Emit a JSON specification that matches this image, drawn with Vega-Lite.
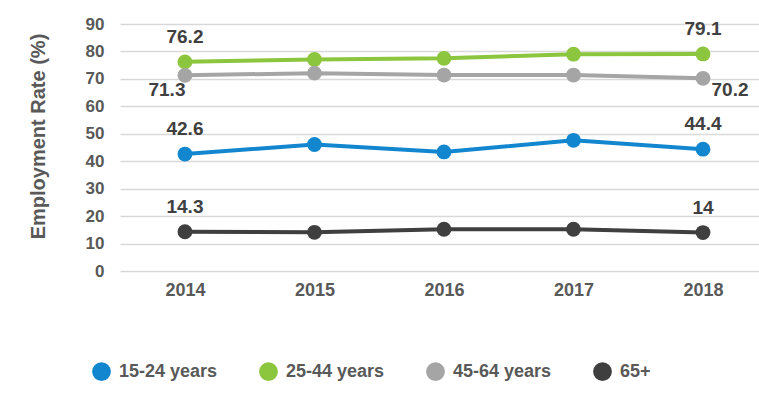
{
  "$schema": "https://vega.github.io/schema/vega-lite/v6.json",
  "autosize": {"type": "none"},
  "padding": {"left": 120, "top": 24, "right": 0, "bottom": 132},
  "width": 639,
  "height": 247,
  "background": "white",
  "config": {
    "view": {"stroke": null},
    "font": "Liberation Sans",
    "axis": {"labelFont": "Liberation Sans", "titleFont": "Liberation Sans"}
  },
  "data": {
    "values": [
      {"year": "2014", "series": "15-24 years", "value": 42.6},
      {"year": "2015", "series": "15-24 years", "value": 46.1},
      {"year": "2016", "series": "15-24 years", "value": 43.4},
      {"year": "2017", "series": "15-24 years", "value": 47.6},
      {"year": "2018", "series": "15-24 years", "value": 44.4},
      {"year": "2014", "series": "25-44 years", "value": 76.2},
      {"year": "2015", "series": "25-44 years", "value": 77.1},
      {"year": "2016", "series": "25-44 years", "value": 77.5},
      {"year": "2017", "series": "25-44 years", "value": 79.0},
      {"year": "2018", "series": "25-44 years", "value": 79.1},
      {"year": "2014", "series": "45-64 years", "value": 71.3},
      {"year": "2015", "series": "45-64 years", "value": 72.1},
      {"year": "2016", "series": "45-64 years", "value": 71.4},
      {"year": "2017", "series": "45-64 years", "value": 71.4},
      {"year": "2018", "series": "45-64 years", "value": 70.2},
      {"year": "2014", "series": "65+", "value": 14.3},
      {"year": "2015", "series": "65+", "value": 14.1},
      {"year": "2016", "series": "65+", "value": 15.2},
      {"year": "2017", "series": "65+", "value": 15.2},
      {"year": "2018", "series": "65+", "value": 14.0}
    ]
  },
  "encoding": {
    "x": {
      "field": "year", "type": "ordinal",
      "scale": {"type": "point", "padding": 0.467, "align": 0.537},
      "axis": {
        "title": null, "labelAngle": 0, "domain": false, "ticks": false, "tickSize": 0,
        "labelPadding": 10, "labelFontSize": 18, "labelFontWeight": "bold", "labelColor": "#595959"
      }
    },
    "y": {
      "field": "value", "type": "quantitative",
      "scale": {"domain": [0, 90], "nice": false},
      "axis": {
        "title": "Employment Rate (%)", "values": [0, 10, 20, 30, 40, 50, 60, 70, 80, 90],
        "domain": false, "ticks": false, "tickSize": 0, "labelPadding": 16,
        "labelFontSize": 17, "labelFontWeight": "bold", "labelColor": "#595959",
        "gridColor": "#d9d9d9", "gridWidth": 1.5,
        "titleFontSize": 20, "titleFontWeight": "bold", "titleColor": "#595959",
        "titleX": -82, "titleY": 112, "titleBaseline": "middle"
      }
    },
    "color": {
      "field": "series", "type": "nominal",
      "scale": {
        "domain": ["15-24 years", "25-44 years", "45-64 years", "65+"],
        "range": ["#1287cf", "#8cc63e", "#a5a5a5", "#3f3f3f"]
      },
      "legend": {
        "title": null, "orient": "none", "direction": "horizontal",
        "legendX": -28, "legendY": 338,
        "symbolType": "circle", "symbolSize": 100, "symbolStrokeWidth": 0,
        "labelFontSize": 18, "labelFontWeight": "bold", "labelColor": "#595959",
        "labelOffset": 8, "columnPadding": 35
      }
    }
  },
  "layer": [
    {
      "mark": {"type": "line"},
      "encoding": {
        "strokeWidth": {
          "field": "series", "type": "nominal",
          "scale": {"domain": ["15-24 years", "25-44 years", "45-64 years", "65+"], "range": [4, 4, 4, 3.5]},
          "legend": null
        }
      }
    },
    {
      "mark": {"type": "point", "filled": true, "opacity": 1},
      "encoding": {
        "size": {
          "field": "series", "type": "nominal",
          "scale": {"domain": ["15-24 years", "25-44 years", "45-64 years", "65+"], "range": [220, 220, 140, 140]},
          "legend": null
        }
      }
    },
    {
      "transform": [
        {"filter": "datum.series !== '45-64 years' && (datum.year === '2014' || datum.year === '2018')"}
      ],
      "mark": {"type": "text", "dy": -25, "fontSize": 19, "fontWeight": "bold", "baseline": "middle"},
      "encoding": {
        "text": {"field": "value", "type": "quantitative", "format": "~g"},
        "color": {"value": "#404040"}
      }
    },
    {
      "transform": [
        {"filter": "datum.series === '45-64 years' && datum.year === '2014'"}
      ],
      "mark": {"type": "text", "dx": -18, "dy": 15, "fontSize": 19, "fontWeight": "bold", "baseline": "middle"},
      "encoding": {
        "text": {"field": "value", "type": "quantitative", "format": "~g"},
        "color": {"value": "#404040"}
      }
    },
    {
      "transform": [
        {"filter": "datum.series === '45-64 years' && datum.year === '2018'"}
      ],
      "mark": {"type": "text", "dx": 27, "dy": 12, "fontSize": 19, "fontWeight": "bold", "baseline": "middle"},
      "encoding": {
        "text": {"field": "value", "type": "quantitative", "format": "~g"},
        "color": {"value": "#404040"}
      }
    }
  ]
}
